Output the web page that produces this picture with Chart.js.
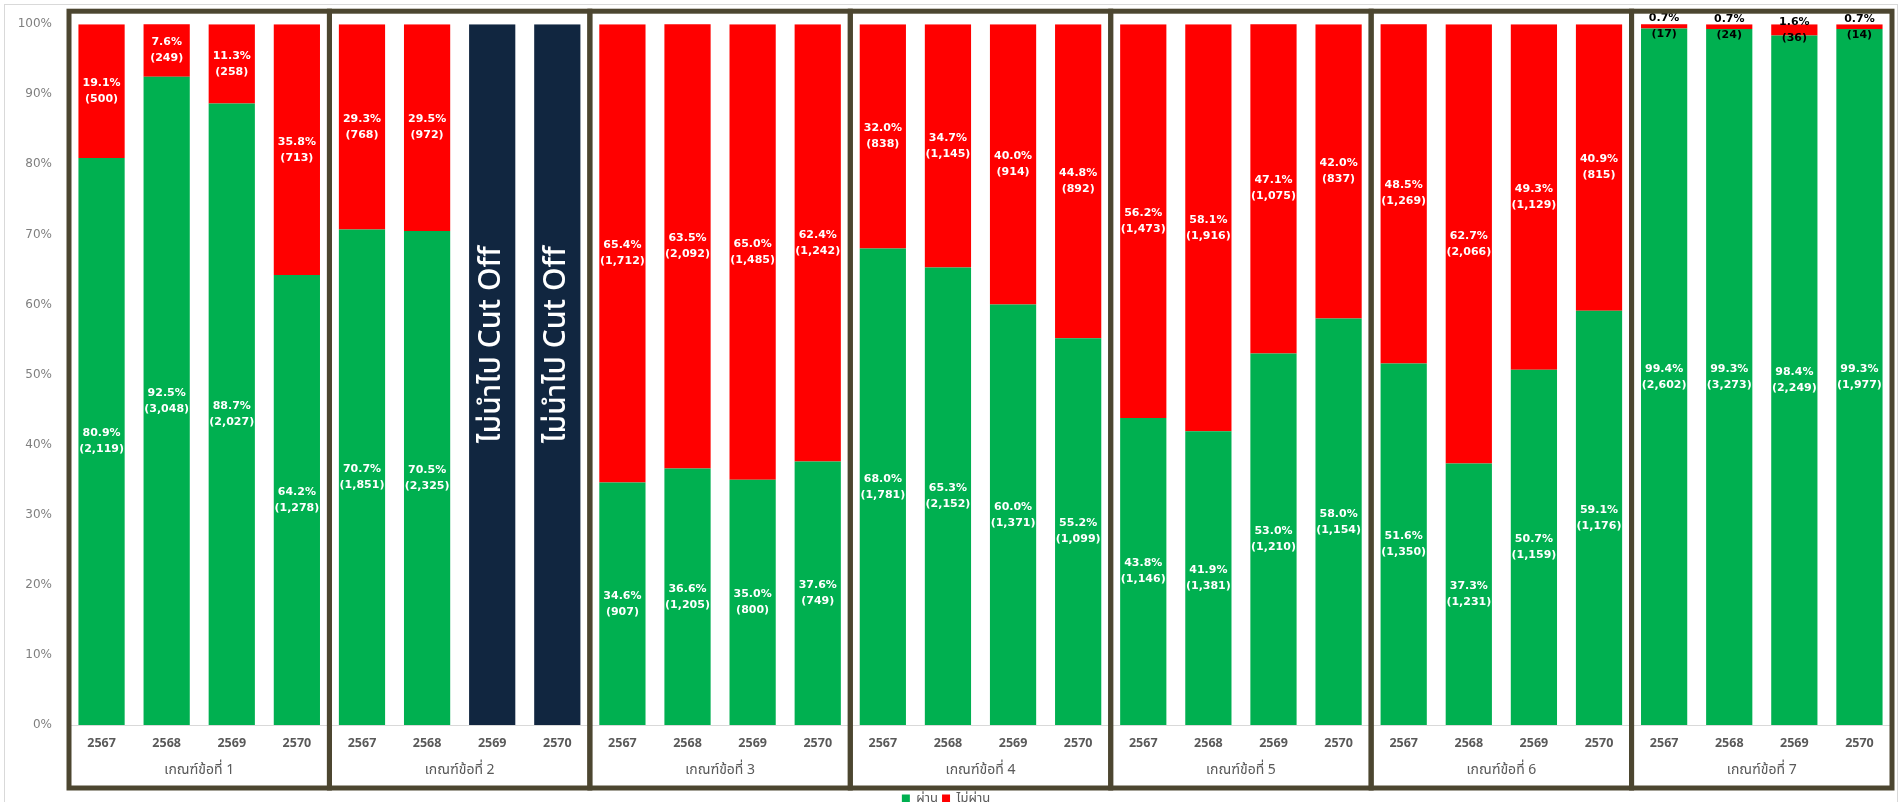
<!DOCTYPE html>
<html>
<head>
<meta charset="utf-8">
<script src="https://cdn.jsdelivr.net/npm/chart.js@4.4.0/dist/chart.umd.min.js"></script>
<style>
  html, body { margin: 0; padding: 0; background: #fff; overflow: hidden; }
  #wrap { position: relative; width: 1901px; height: 815px; }
</style>
</head>
<body>
<div id="wrap"><canvas id="chart"></canvas></div>
<script>
// --- data ---
const groups = ['เกณฑ์ข้อที่ 1', 'เกณฑ์ข้อที่ 2', 'เกณฑ์ข้อที่ 3', 'เกณฑ์ข้อที่ 4', 'เกณฑ์ข้อที่ 5', 'เกณฑ์ข้อที่ 6', 'เกณฑ์ข้อที่ 7'];
const years = ['2567', '2568', '2569', '2570'];

const passPct = [
  80.9, 92.5, 88.7, 64.2,
  70.7, 70.5, null, null,
  34.6, 36.6, 35.0, 37.6,
  68.0, 65.3, 60.0, 55.2,
  43.8, 41.9, 53.0, 58.0,
  51.6, 37.3, 50.7, 59.1,
  99.4, 99.3, 98.4, 99.3
];
const passCount = [
  2119, 3048, 2027, 1278,
  1851, 2325, null, null,
  907, 1205, 800, 749,
  1781, 2152, 1371, 1099,
  1146, 1381, 1210, 1154,
  1350, 1231, 1159, 1176,
  2602, 3273, 2249, 1977
];
const failPct = [
  19.1, 7.6, 11.3, 35.8,
  29.3, 29.5, null, null,
  65.4, 63.5, 65.0, 62.4,
  32.0, 34.7, 40.0, 44.8,
  56.2, 58.1, 47.1, 42.0,
  48.5, 62.7, 49.3, 40.9,
  0.7, 0.7, 1.6, 0.7
];
const failCount = [
  500, 249, 258, 713,
  768, 972, null, null,
  1712, 2092, 1485, 1242,
  838, 1145, 914, 892,
  1473, 1916, 1075, 837,
  1269, 2066, 1129, 815,
  17, 24, 36, 14
];
// bars not used for the cut off (group 2, 2569 and 2570)
const cutOffPct = [
  null, null, null, null,
  null, null, 100, 100,
  null, null, null, null,
  null, null, null, null,
  null, null, null, null,
  null, null, null, null,
  null, null, null, null
];
const cutOffText = 'ไม่นำไป Cut Off';

const labels = groups.flatMap(() => years);

const GREEN = '#00b050';
const RED = '#ff0000';
const NAVY = '#112640';
const BOX = '#4c4630';
const THAI = '"Noto Sans Thai UI", "Noto Sans Thai", "Noto Sans", sans-serif';

// value labels inside the segments
const barLabels = {
  id: 'barLabels',
  afterDatasetsDraw(chart) {
    const ctx = chart.ctx;
    ctx.save();
    ctx.textAlign = 'center';
    ctx.textBaseline = 'middle';
    ctx.font = 'bold 11px "DejaVu Sans"';
    [[0, passPct, passCount], [1, failPct, failCount]].forEach(([di, pct, cnt]) => {
      chart.getDatasetMeta(di).data.forEach((bar, i) => {
        if (pct[i] == null) return;
        const cy = (bar.y + bar.base) / 2;
        ctx.fillStyle = pct[i] < 5 ? '#000' : '#fff';
        ctx.fillText(pct[i].toFixed(1) + '%', bar.x, cy - 8);
        ctx.fillText('(' + cnt[i].toLocaleString('en-US') + ')', bar.x, cy + 8);
      });
    });
    ctx.font = '500 30px ' + THAI;
    ctx.fillStyle = '#fff';
    chart.getDatasetMeta(2).data.forEach((bar, i) => {
      if (cutOffPct[i] == null) return;
      ctx.save();
      ctx.translate(bar.x - 1, (bar.y + bar.base) / 2 - 30);
      ctx.rotate(-Math.PI / 2);
      ctx.fillText(cutOffText, 0, 0);
      ctx.restore();
    });
    ctx.restore();
  }
};

// group labels, axis separators and the dark boxes drawn over the groups
const groupFrames = {
  id: 'groupFrames',
  afterDraw(chart) {
    const ctx = chart.ctx;
    const x = chart.scales.x;
    const area = chart.chartArea;
    const half = (x.getPixelForValue(1) - x.getPixelForValue(0)) / 2;
    ctx.save();

    // outer chart frame
    ctx.strokeStyle = '#d9d9d9';
    ctx.lineWidth = 1;
    ctx.strokeRect(4.5, 4.5, chart.width - 8, chart.height);

    // separators of the two-level axis
    ctx.beginPath();
    for (let g = 0; g <= groups.length; g++) {
      const px = Math.round(x.getPixelForValue(g * 4) - half) + 0.5;
      ctx.moveTo(px, area.bottom);
      ctx.lineTo(px, area.bottom + 54);
    }
    ctx.stroke();

    ctx.fillStyle = '#595959';
    ctx.font = '14px ' + THAI;
    ctx.textAlign = 'center';
    ctx.textBaseline = 'middle';
    groups.forEach((name, g) => {
      const cx = (x.getPixelForValue(g * 4) + x.getPixelForValue(g * 4 + 3)) / 2;
      ctx.fillText(name, cx, area.bottom + 45);
    });

    ctx.strokeStyle = BOX;
    ctx.lineWidth = 5;
    groups.forEach((name, g) => {
      const l = x.getPixelForValue(g * 4) - half;
      const r = x.getPixelForValue(g * 4 + 3) + half;
      ctx.strokeRect(l, area.top - 13, r - l, area.bottom - area.top + 76);
    });
    ctx.restore();
  }
};

new Chart(document.getElementById('chart'), {
  type: 'bar',
  data: {
    labels: labels,
    datasets: [
      { label: 'ผ่าน', data: passPct, backgroundColor: GREEN, stack: 's' },
      { label: 'ไม่ผ่าน', data: failPct, backgroundColor: RED, stack: 's' },
      { label: 'cutoff', data: cutOffPct, backgroundColor: NAVY, stack: 's' }
    ]
  },
  options: {
    responsive: true,
    maintainAspectRatio: false,
    animation: false,
    layout: { padding: { left: 0, right: 9, top: 20, bottom: 0 } },
    datasets: { bar: { barPercentage: 0.71, categoryPercentage: 1 } },
    plugins: {
      legend: {
        position: 'bottom',
        labels: {
          filter: item => item.datasetIndex < 2,
          boxWidth: 8,
          boxHeight: 8,
          padding: 4,
          color: '#595959',
          font: { family: THAI, size: 13 }
        }
      },
      tooltip: { enabled: false }
    },
    scales: {
      x: {
        stacked: true,
        grid: { display: false, drawTicks: false },
        border: { color: '#d9d9d9', width: 1 },
        ticks: {
          padding: 11,
          color: '#595959',
          maxRotation: 0,
          autoSkip: false,
          font: { family: '"Open Sans"', size: 12.5, weight: 'bold' }
        },
        afterFit: s => { s.height = 63; }
      },
      y: {
        stacked: true,
        min: 0,
        max: 100,
        grid: { display: false, drawTicks: false },
        border: { display: false },
        ticks: {
          stepSize: 10,
          padding: 17,
          color: '#7f7f7f',
          font: { family: '"DejaVu Sans"', size: 12 },
          callback: v => v + '%'
        },
        afterFit: s => { s.width = 69; }
      }
    }
  },
  plugins: [barLabels, groupFrames]
});
</script>
</body>
</html>
